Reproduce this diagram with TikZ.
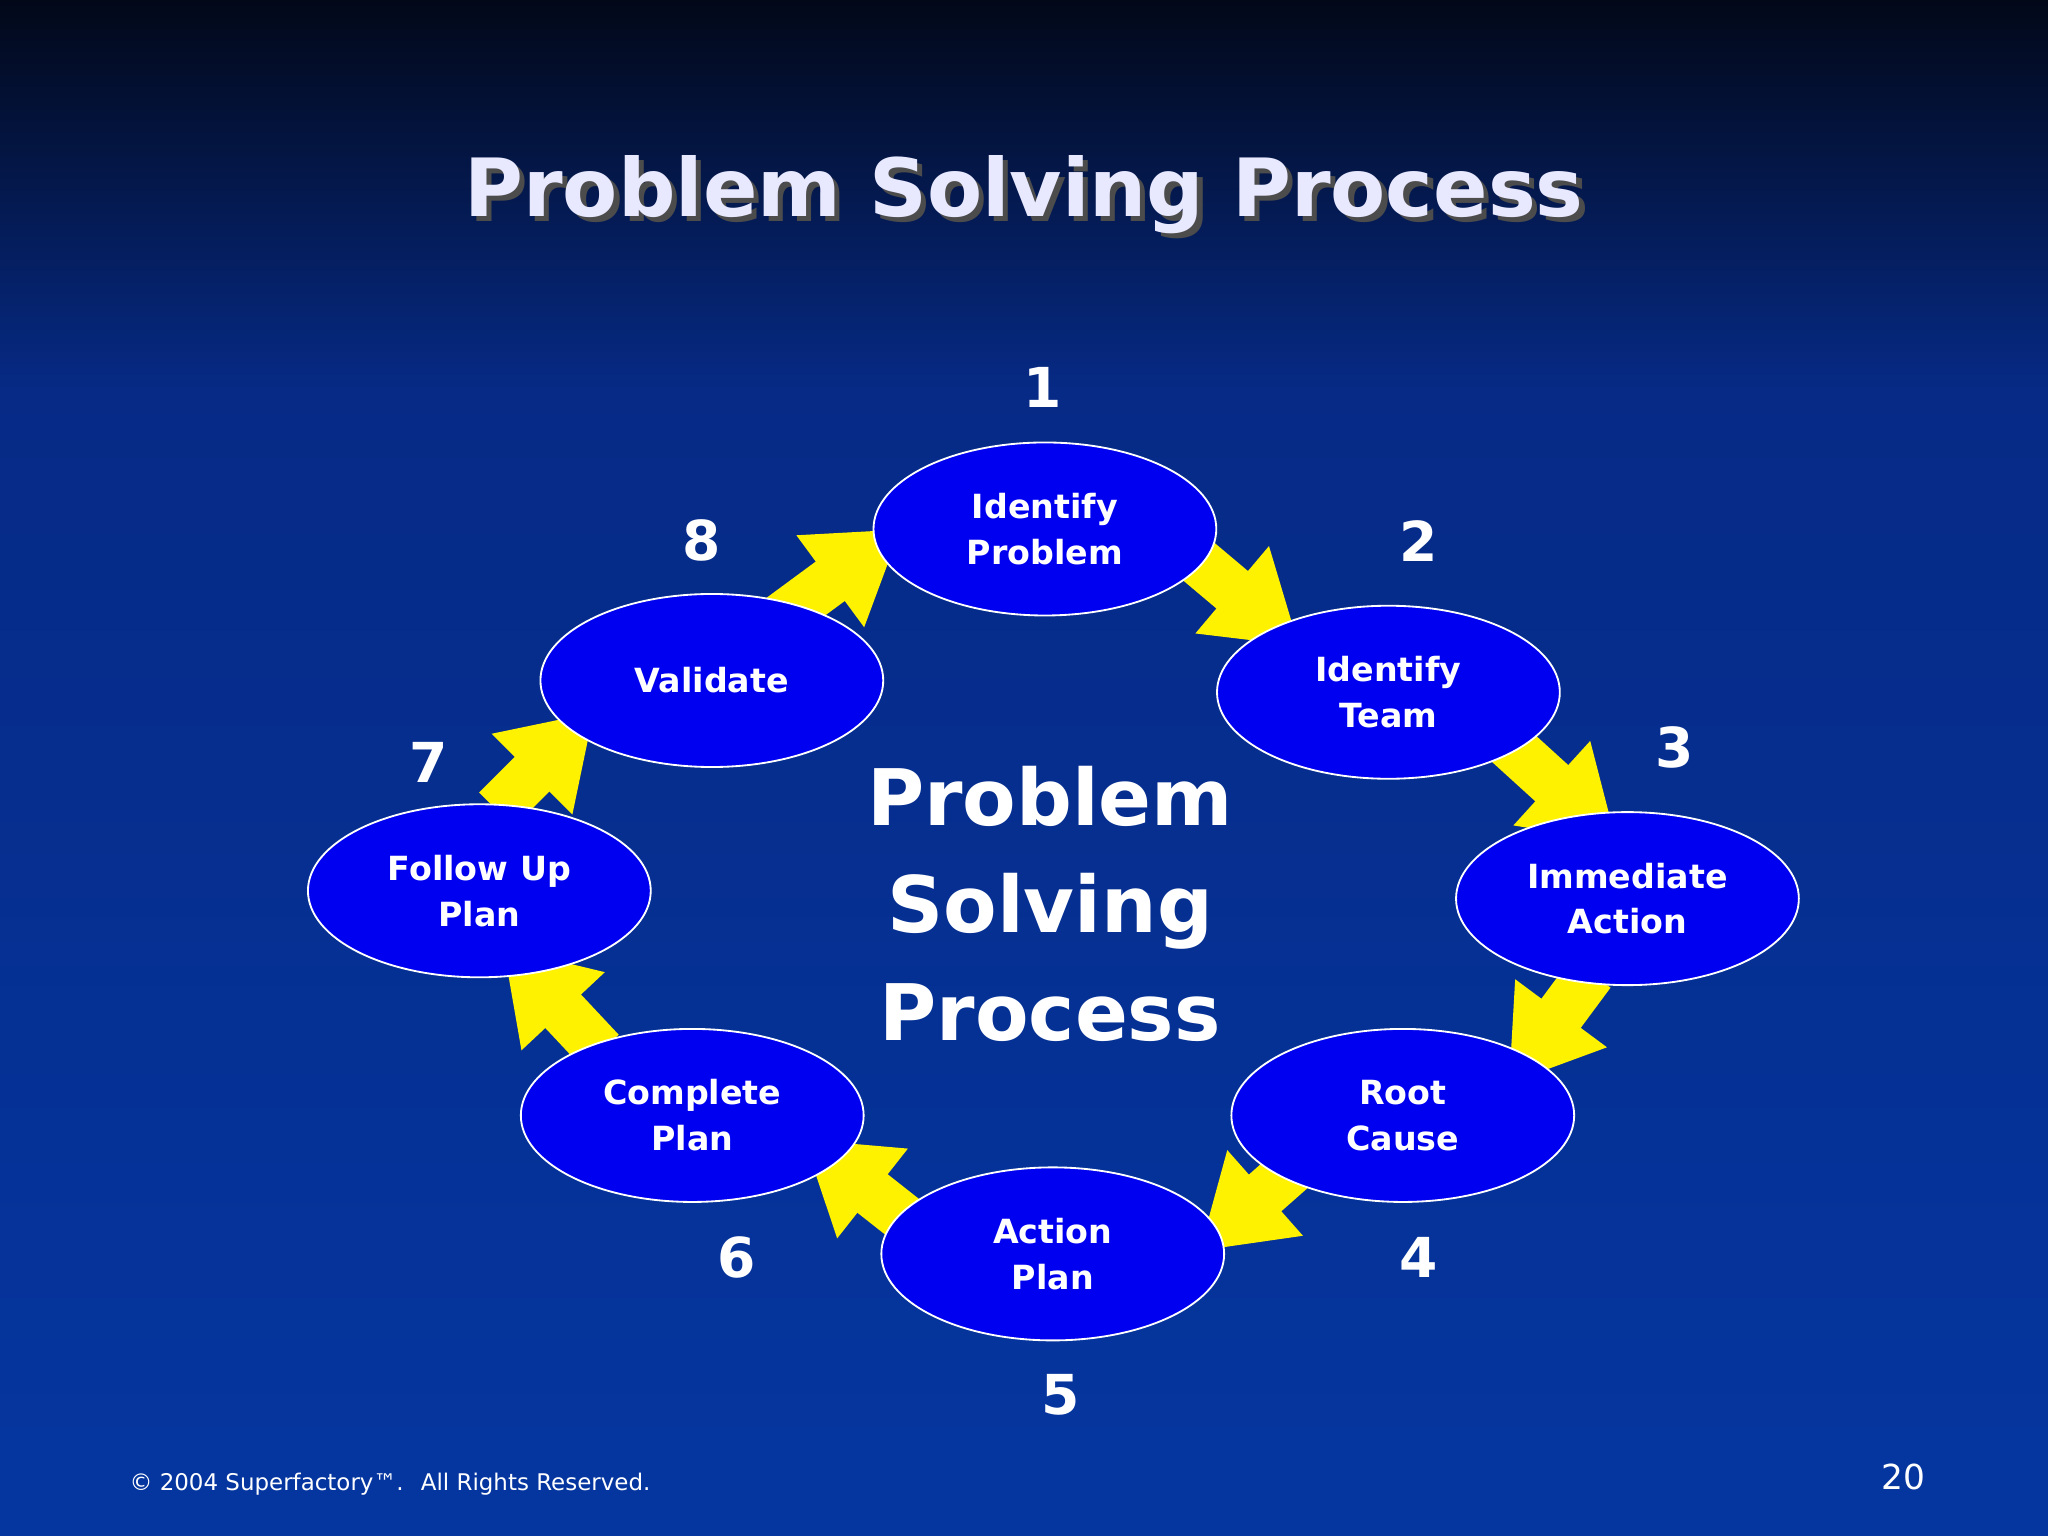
\documentclass[tikz,border=0pt]{standalone}
\usepackage{fontspec}
\setmainfont{DejaVu Sans}
\usetikzlibrary{shapes.geometric,arrows.meta}
\definecolor{bgtop}{HTML}{020818}
\definecolor{bgmid}{HTML}{062A86}
\definecolor{bgbot}{HTML}{0536A0}
\definecolor{ellblue}{HTML}{0000F0}
\definecolor{titlecol}{HTML}{E8E8FF}
\tikzset{
  stage/.style={ellipse,draw=white,line width=0.8pt,fill=ellblue,minimum width=5.25cm,minimum height=2.65cm,inner sep=0pt,text=white,font=\fontsize{14.5}{20}\selectfont\bfseries,align=center},
  barrow/.style={draw=yellow,line width=0.75cm,-{Triangle[width=1.65cm,length=1.35cm]}},
  num/.style={text=white,font=\fontsize{24}{28}\selectfont\bfseries}
}
\begin{document}
\begin{tikzpicture}[x=0.02cm,y=-0.02cm]
\useasboundingbox (0,0) rectangle (1568,1176);
\shade[top color=bgtop,bottom color=bgmid] (0,0) rectangle (1568,300);
\shade[top color=bgmid,bottom color=bgbot] (0,300) rectangle (1568,1176);
\node[text=black!70,font=\fontsize{35}{40}\selectfont\bfseries] at (788,153) {Problem Solving Process};
\node (title) [text=titlecol,font=\fontsize{35}{40}\selectfont\bfseries] at (784,149) {Problem Solving Process};
% arrows
\coordinate (a1s) at (900,415); \coordinate (a1t) at (995,495);
\coordinate (a2s) at (1150,565); \coordinate (a2t) at (1238,645);
\coordinate (a3s) at (1218,745); \coordinate (a3t) at (1155,830);
\coordinate (a4s) at (995,890); \coordinate (a4t) at (918,958);
\coordinate (a5s) at (695,935); \coordinate (a5t) at (615,872);
\coordinate (a6s) at (460,805); \coordinate (a6t) at (385,725);
\coordinate (a7s) at (380,620); \coordinate (a7t) at (455,545);
\coordinate (a8s) at (595,475); \coordinate (a8t) at (690,405);
\foreach \i in {1,...,8} \draw[barrow] (a\i s) -- (a\i t);
\node[stage] (s1) at (800,405) {Identify\\Problem};
\node[stage] (s2) at (1063,530) {Identify\\Team};
\node[stage] (s3) at (1246,688) {Immediate\\Action};
\node[stage] (s4) at (1074,854) {Root\\Cause};
\node[stage] (s5) at (806,960) {Action\\Plan};
\node[stage] (s6) at (530,854) {Complete\\Plan};
\node[stage] (s7) at (367,682) {Follow Up\\Plan};
\node[stage] (s8) at (545,521) {Validate};
\node[num] (n1) at (798,297) {1};
\node[num] (n2) at (1086,414) {2};
\node[num] (n3) at (1282,572) {3};
\node[num] (n4) at (1086,963) {4};
\node[num] (n5) at (812,1068) {5};
\node[num] (n6) at (564,963) {6};
\node[num] (n7) at (328,584) {7};
\node[num] (n8) at (537,414) {8};
\node (center) [text=white,font=\fontsize{34}{47}\selectfont\bfseries,align=center] at (804,692) {Problem\\Solving\\Process};
\node (foot) [anchor=west,text=white!90,font=\fontsize{10}{12}\selectfont] at (93,1136) {© 2004 Superfactory™.~ All Rights Reserved.};
\node (page) [text=white!90,font=\fontsize{15}{18}\selectfont] at (1457,1131) {20};
\end{tikzpicture}
\end{document}
